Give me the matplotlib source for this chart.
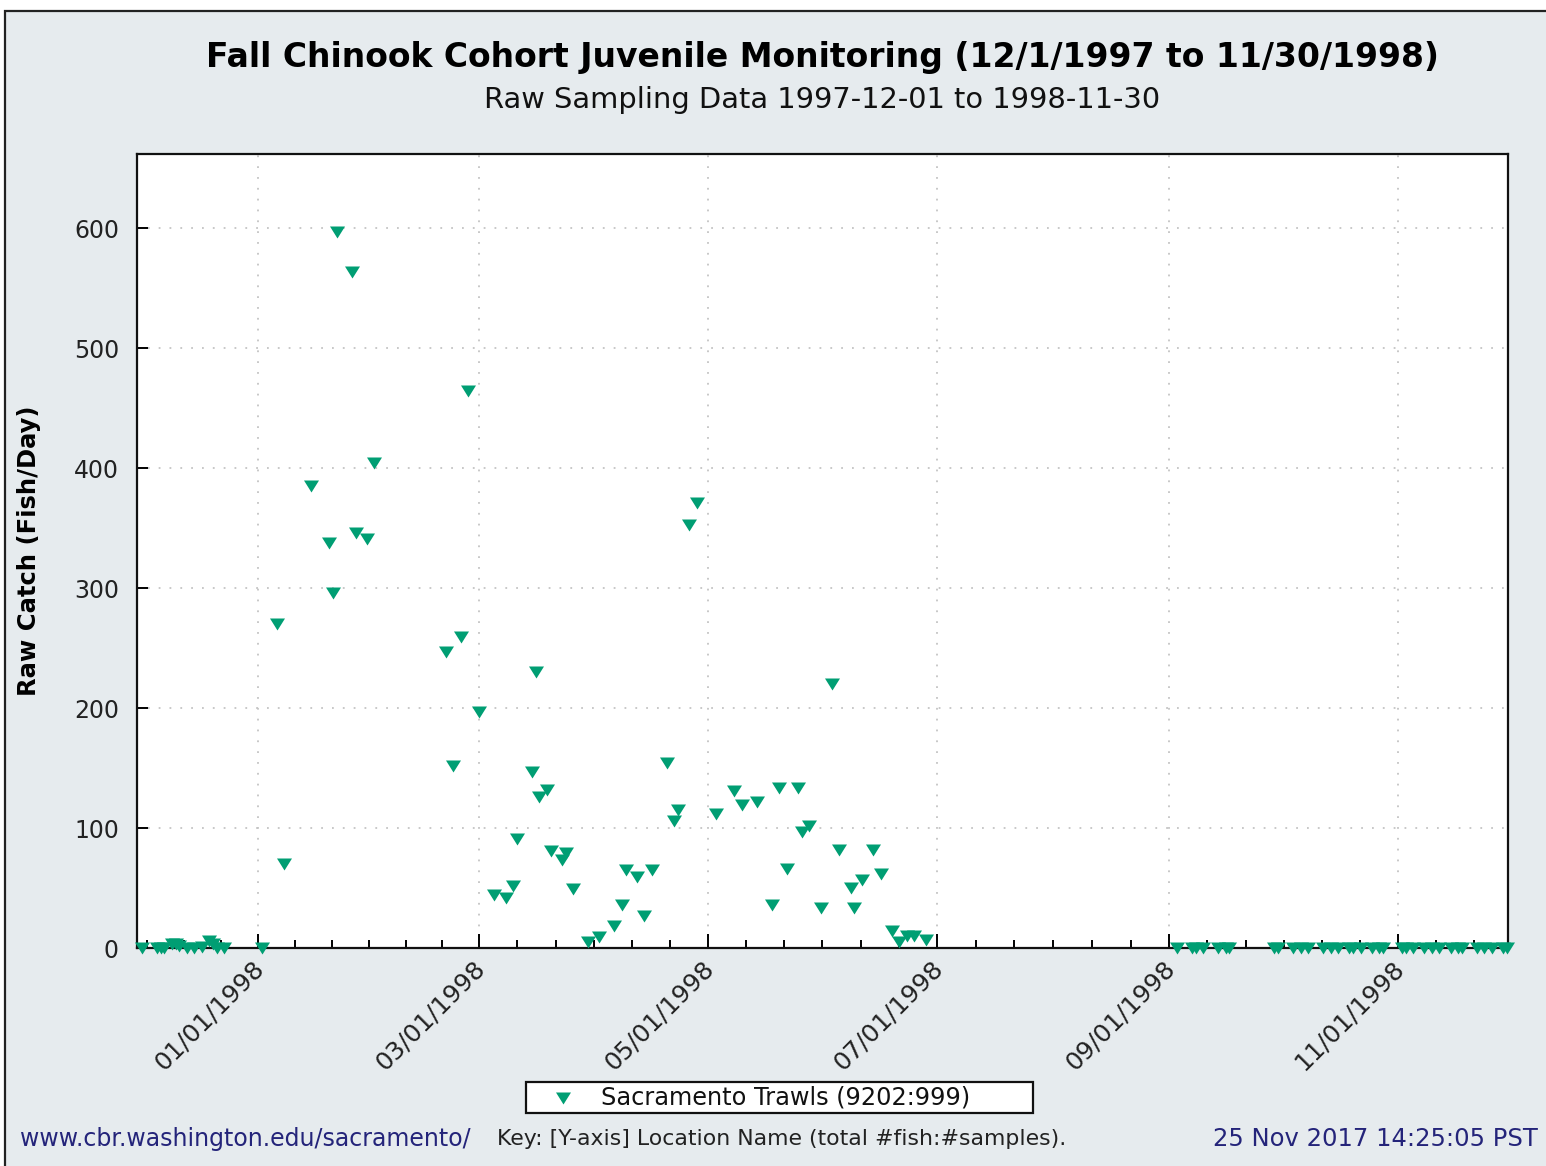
import matplotlib
matplotlib.use("Agg")
import matplotlib.pyplot as plt
import matplotlib.dates as mdates
import matplotlib.transforms as mtransforms
import numpy as np
import pandas as pd
from matplotlib.patches import Rectangle
from matplotlib.lines import Line2D

# sampling dates and raw catch (fish/day)
sample_dates = [
    "1997-12-01", "1997-12-05", "1997-12-06", "1997-12-07", "1997-12-09", "1997-12-10",
    "1997-12-11", "1997-12-13", "1997-12-15", "1997-12-17", "1997-12-19", "1997-12-20",
    "1997-12-21", "1997-12-23",
    "1998-01-02", "1998-01-06", "1998-01-08", "1998-01-15", "1998-01-20", "1998-01-21",
    "1998-01-22", "1998-01-26", "1998-01-27", "1998-01-30",
    "1998-02-01", "1998-02-20", "1998-02-22", "1998-02-24", "1998-02-26",
    "1998-03-01", "1998-03-05", "1998-03-08", "1998-03-10", "1998-03-11", "1998-03-15",
    "1998-03-16", "1998-03-17", "1998-03-19", "1998-03-20", "1998-03-23", "1998-03-24",
    "1998-03-26", "1998-03-30",
    "1998-04-02", "1998-04-06", "1998-04-08", "1998-04-09", "1998-04-12", "1998-04-14",
    "1998-04-16", "1998-04-20", "1998-04-22", "1998-04-23", "1998-04-26", "1998-04-28",
    "1998-05-03", "1998-05-08", "1998-05-10", "1998-05-14", "1998-05-18", "1998-05-20",
    "1998-05-22", "1998-05-25", "1998-05-26", "1998-05-28", "1998-05-31",
    "1998-06-03", "1998-06-05", "1998-06-08", "1998-06-09", "1998-06-11", "1998-06-14",
    "1998-06-16", "1998-06-19", "1998-06-21", "1998-06-23", "1998-06-25", "1998-06-28",
    "1998-09-03", "1998-09-07", "1998-09-08", "1998-09-10", "1998-09-14", "1998-09-16",
    "1998-09-17", "1998-09-29", "1998-09-30",
    "1998-10-04", "1998-10-06", "1998-10-08", "1998-10-12", "1998-10-14", "1998-10-16",
    "1998-10-19", "1998-10-20", "1998-10-22", "1998-10-25", "1998-10-27", "1998-10-28",
    "1998-11-02", "1998-11-03", "1998-11-05", "1998-11-08", "1998-11-10", "1998-11-12",
    "1998-11-15", "1998-11-17", "1998-11-18", "1998-11-22", "1998-11-24", "1998-11-26",
    "1998-11-29", "1998-11-30",
]
raw_catch = [
    0, 0, 0, 0, 3, 3,
    2, 0, 0, 1, 6, 3,
    0, 0,
    0, 270, 70, 385, 338, 296,
    597, 564, 346, 341,
    404, 247, 152, 259, 464,
    197, 44, 42, 52, 91, 147,
    230, 126, 132, 81, 73, 79,
    49, 5,
    9, 18, 36, 65, 59, 27,
    65, 154, 106, 115, 353, 371,
    112, 131, 119, 122, 36, 133,
    66, 133, 97, 102, 33,
    220, 82, 50, 33, 57, 82,
    62, 14, 5, 10, 10, 7,
    0, 0, 0, 0, 0, 0,
    0, 0, 0,
    0, 0, 0, 0, 0, 0,
    0, 0, 0, 0, 0, 0,
    0, 0, 0, 0, 0, 0,
    0, 0, 0, 0, 0, 0,
    0, 0,
]

label_months = [1, 3, 5, 7, 9, 11]
y_ticks = [0, 100, 200, 300, 400, 500, 600]

title = "Fall Chinook Cohort Juvenile Monitoring (12/1/1997 to 11/30/1998)"
subtitle = "Raw Sampling Data 1997-12-01 to 1998-11-30"
series_label = "Sacramento Trawls (9202:999)"

W, H = 1546, 1166
BG = "#e6ebee"
GREEN = "#009e73"
NAVY = "#24247a"

dates = pd.to_datetime(sample_dates)

fig = plt.figure(figsize=(W / 100, H / 100), dpi=100, facecolor="white")

# outer panel with the dark frame on top / left
fig.patches.append(Rectangle((5 / W, -0.02), 1.05, 1 - 11 / H + 0.02, transform=fig.transFigure,
                             facecolor=BG, edgecolor="#222222", linewidth=1.6, zorder=-10))

ax = fig.add_axes([137 / W, 1 - 948 / H, 1371 / W, 794 / H])
ax.set_facecolor("white")

tri = [(-1, 0.8), (1, 0.8), (0, -0.8)]
ax.plot(dates, raw_catch, linestyle="none", marker=tri, markersize=10.8,
        color=GREEN, markeredgewidth=0, clip_on=False, zorder=3)

ax.set_xlim(pd.Timestamp("1997-11-29 17:00"), pd.Timestamp("1998-11-30 08:00"))
ax.set_ylim(0, 662)

# major ticks every other month, six minor steps between them
majors = mdates.date2num([pd.Timestamp(1998, m, 1) for m in label_months])
minors = []
for a, b in zip(majors[:-1], majors[1:]):
    minors.extend(np.linspace(a, b, 7)[1:-1])
step0 = (majors[1] - majors[0]) / 6
step1 = (majors[-1] - majors[-2]) / 6
minors.extend(majors[0] - step0 * np.arange(1, 4))
minors.extend(majors[-1] + step1 * np.arange(1, 4))
ax.xaxis.set_major_locator(mdates.MonthLocator(bymonth=label_months))
ax.xaxis.set_major_formatter(mdates.DateFormatter("%m/%d/%Y"))
ax.xaxis.set_minor_locator(matplotlib.ticker.FixedLocator(minors))
ax.set_yticks(y_ticks)

ax.tick_params(axis="x", which="major", direction="in", length=10, width=1.4,
               pad=6, labelsize=18, labelcolor="#222222", labelrotation=45)
ax.tick_params(axis="x", which="minor", direction="in", length=5.5, width=1.4)
ax.tick_params(axis="y", direction="in", length=8, width=1.4, pad=13,
               labelsize=17, labelcolor="#222222")
shift = mtransforms.ScaledTranslation(-6 / 100, 0, fig.dpi_scale_trans)
for lbl in ax.get_xticklabels():
    lbl.set_ha("right")
    lbl.set_va("top")
    lbl.set_rotation_mode("anchor")
    lbl.set_transform(lbl.get_transform() + shift)

for s in ax.spines.values():
    s.set_linewidth(1.6)
    s.set_color("#111111")

ax.grid(True, which="major", color="#c4c4c4", linestyle=(0, (1, 5)), linewidth=1.3)
ax.set_axisbelow(True)

ax.set_ylabel("Raw Catch (Fish/Day)", fontsize=17.5, fontweight="bold", va="center")
ax.yaxis.set_label_coords((29 - 137) / 1371, 0.5)

cx = (137 + 1508) / 2 / W
fig.text(cx, 1 - 57 / H, title, ha="center", va="center", fontsize=23.75, fontweight="bold")
fig.text(cx, 1 - 100 / H, subtitle, ha="center", va="center", fontsize=20.75, color="#111111")

# legend box under the x labels
fig.patches.append(Rectangle((526 / W, 1 - 1113 / H), 507 / W, 31 / H, transform=fig.transFigure,
                             facecolor="white", edgecolor="#111111", linewidth=1.6, zorder=2))
fig.lines.append(Line2D([563 / W], [1 - 1098 / H], transform=fig.transFigure, linestyle="none",
                        marker=tri, markersize=10.8, color=GREEN, markeredgewidth=0, zorder=3))
fig.text(601 / W, 1 - 1098 / H, series_label, ha="left", va="center", fontsize=17.3,
         color="#111111", zorder=4)

fig.text(20 / W, 1 - 1139 / H, "www.cbr.washington.edu/sacramento/", ha="left", va="center",
         fontsize=17, color=NAVY)
fig.text(497 / W, 1 - 1139 / H, "Key: [Y-axis] Location Name (total #fish:#samples).",
         ha="left", va="center", fontsize=15.8, color="#222222")
fig.text(1538 / W, 1 - 1139 / H, "25 Nov 2017 14:25:05 PST", ha="right", va="center",
         fontsize=17.5, color=NAVY)

fig.savefig("out.png", dpi=100, facecolor=fig.get_facecolor())
